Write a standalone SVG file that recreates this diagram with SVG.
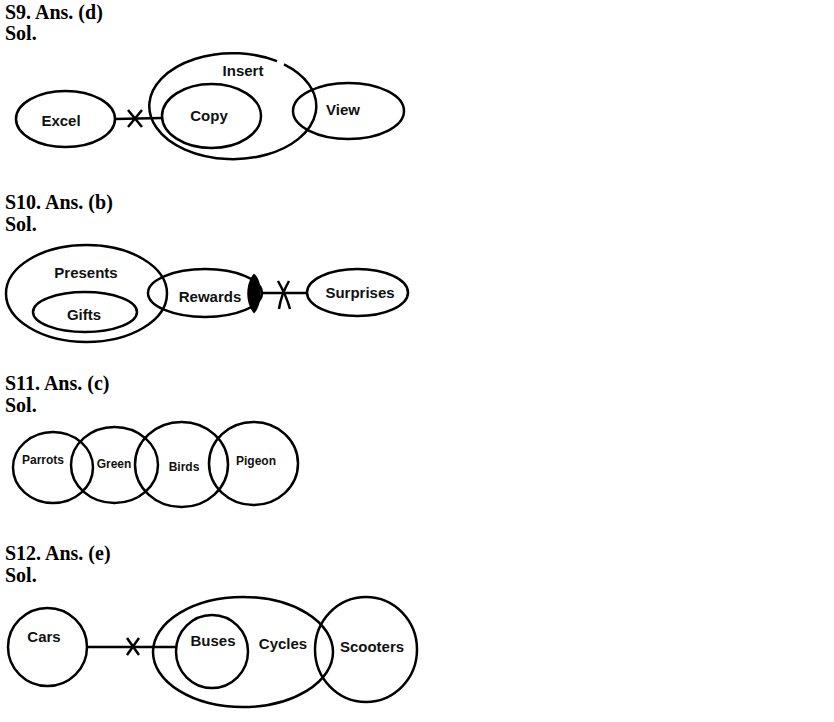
<svg xmlns="http://www.w3.org/2000/svg" width="834" height="722" viewBox="0 0 834 722">
<style>
.t{font-family:"Liberation Serif","Times New Roman",serif;font-weight:bold;font-size:20px;fill:#000}
.s{fill:none;stroke:#000;stroke-width:2.5}
.l{font-family:"Liberation Sans",Arial,sans-serif;font-weight:bold;font-size:15px;fill:#111;text-anchor:middle}
.m{font-family:"Liberation Sans",Arial,sans-serif;font-weight:bold;font-size:12px;fill:#111;text-anchor:middle}
</style>
<rect width="834" height="722" fill="#fff"/>
<text class="t" x="5" y="19">S9. Ans. (d)</text>
<text class="t" x="5" y="40">Sol.</text>
<text class="t" x="5" y="209">S10. Ans. (b)</text>
<text class="t" x="5" y="231">Sol.</text>
<text class="t" x="5" y="390">S11. Ans. (c)</text>
<text class="t" x="5" y="412">Sol.</text>
<text class="t" x="5" y="560">S12. Ans. (e)</text>
<text class="t" x="5" y="582">Sol.</text>

<g id="connectors">
<line class="s" x1="115" y1="119" x2="162" y2="118"/>
<line class="s" x1="128" y1="110" x2="142" y2="127"/>
<line class="s" x1="142" y1="110" x2="128" y2="127"/>
<line class="s" x1="262" y1="293" x2="307" y2="293"/>
<path class="s" d="M278,281 Q286,295 290,309"/>
<path class="s" d="M289,281 Q281,295 279,309"/>
<line class="s" x1="87" y1="647" x2="177" y2="647"/>
<line class="s" x1="127" y1="638" x2="139" y2="655"/>
<line class="s" x1="139" y1="638" x2="127" y2="655"/>
</g>

<g id="excel"><ellipse class="s" cx="65.5" cy="119" rx="49.5" ry="28"/><text class="l" x="61" y="126">Excel</text></g>
<g id="insert"><path class="s" d="M284,64.3 A83.5 53 0 1 1 277,61.2"/><text class="l" x="243" y="76">Insert</text></g>
<g id="copy"><ellipse class="s" cx="211.5" cy="116" rx="49.5" ry="32"/><text class="l" x="209" y="121">Copy</text></g>
<g id="view"><ellipse class="s" cx="348.5" cy="111" rx="55.5" ry="28"/><text class="l" x="343" y="115">View</text></g>

<g id="presents"><ellipse class="s" cx="86.5" cy="293.5" rx="80.5" ry="48.5"/><text class="l" x="86" y="278">Presents</text></g>
<g id="gifts"><ellipse class="s" cx="85" cy="312" rx="52" ry="20"/><text class="l" x="84" y="320">Gifts</text></g>
<g id="rewards"><ellipse class="s" cx="205" cy="293" rx="57" ry="24"/><path d="M254,273.5 C245,284 245,303 254,313.5 C262,306 264,282 254,273.5 Z" fill="#000"/><text class="l" x="210" y="302">Rewards</text></g>
<g id="surprises"><ellipse class="s" cx="357.5" cy="292.5" rx="50.5" ry="23.5"/><text class="l" x="360" y="298">Surprises</text></g>

<g id="parrots"><ellipse class="s" cx="53" cy="467.5" rx="40" ry="35.5"/><text class="m" x="43" y="464">Parrots</text></g>
<g id="green"><ellipse class="s" cx="114.5" cy="465" rx="43.5" ry="38"/><text class="m" x="114" y="468">Green</text></g>
<g id="birds"><ellipse class="s" cx="181.5" cy="464.5" rx="46.5" ry="42.5"/><text class="m" x="184" y="471">Birds</text></g>
<g id="pigeon"><ellipse class="s" cx="253.5" cy="463.5" rx="44.5" ry="41.5"/><text class="m" x="256" y="465">Pigeon</text></g>

<g id="cars"><ellipse class="s" cx="47.5" cy="647" rx="39.5" ry="39"/><text class="l" x="44" y="642">Cars</text></g>
<g id="cycles"><ellipse class="s" cx="243" cy="652" rx="90" ry="55"/><text class="l" x="283" y="649">Cycles</text></g>
<g id="buses"><ellipse class="s" cx="212" cy="651.5" rx="36" ry="36.5"/><text class="l" x="213" y="646">Buses</text></g>
<g id="scooters"><ellipse class="s" cx="366" cy="649.5" rx="51" ry="52.5"/><text class="l" x="372" y="652">Scooters</text></g>
</svg>
